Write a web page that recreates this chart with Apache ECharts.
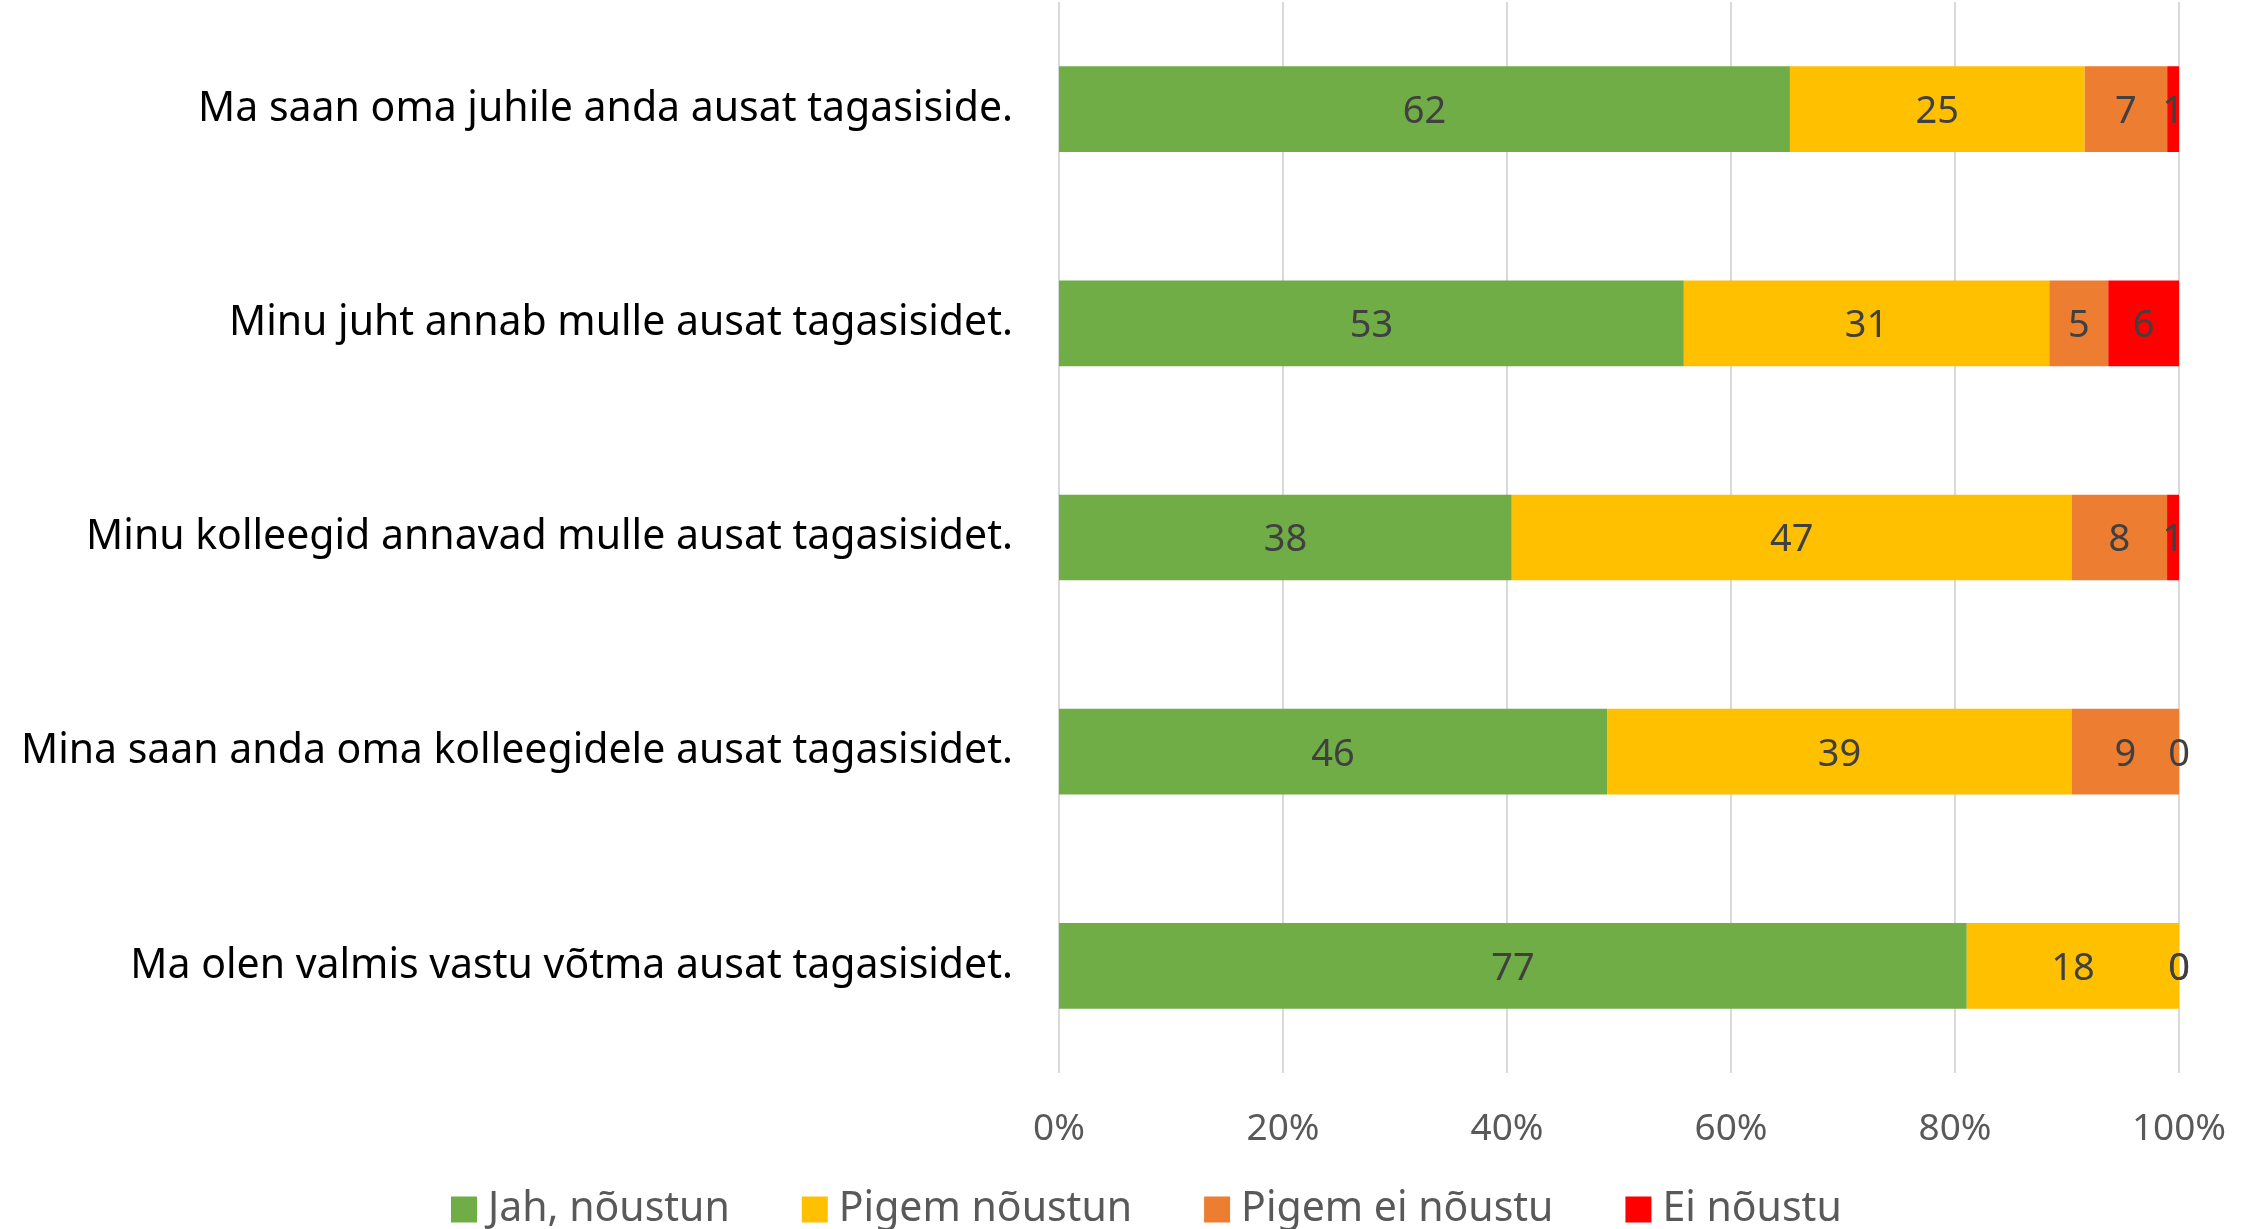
<!DOCTYPE html>
<html>
<head>
<meta charset="utf-8">
<script src="https://cdn.jsdelivr.net/npm/echarts@6/dist/echarts.min.js"></script>
<style>
  html, body { margin: 0; padding: 0; background: #fff; }
  #chart { width: 2254px; height: 1229px; }
</style>
</head>
<body>
<div id="chart"></div>
<script>
// kategooriad (ülevalt alla)
const categories = [
  'Ma saan oma juhile anda ausat tagasiside.',
  'Minu juht annab mulle ausat tagasisidet.',
  'Minu kolleegid annavad mulle ausat tagasisidet.',
  'Mina saan anda oma kolleegidele ausat tagasisidet.',
  'Ma olen valmis vastu võtma ausat tagasisidet.'
]
const seriesNames = ['Jah, nõustun', 'Pigem nõustun', 'Pigem ei nõustu', 'Ei nõustu']
const jah = [62, 53, 38, 46, 77]
const pigemJah = [25, 31, 47, 39, 18]
const pigemEi = [7, 5, 8, 9, 0]
const ei = [1, 6, 1, 0, 0]
const colors = ['#70AD47', '#FFC000', '#ED7D31', '#FF0000']

const raw = [jah, pigemJah, pigemEi, ei]
const totals = categories.map((c, i) => raw.reduce((s, arr) => s + arr[i], 0))

const chart = echarts.init(document.getElementById('chart'))
const font = 'Noto Sans'

chart.setOption({
  animation: false,
  textStyle: { fontFamily: font },
  grid: { left: 1059, right: 75, top: 2, bottom: 156 },
  legend: {
    left: 446,
    top: 1184,
    itemWidth: 26,
    itemHeight: 26,
    itemGap: 72,
    icon: 'rect',
    textStyle: { fontSize: 41, color: '#595959', fontFamily: font, padding: [0, 0, 0, 6] },
    data: seriesNames
  },
  xAxis: {
    type: 'value',
    min: 0,
    max: 100,
    interval: 20,
    axisLine: { show: false },
    axisTick: { show: false },
    splitLine: { lineStyle: { color: '#D9D9D9', width: 2 } },
    axisLabel: {
      formatter: '{value}%',
      fontSize: 37,
      color: '#595959',
      margin: 38
    }
  },
  yAxis: {
    type: 'category',
    inverse: true,
    data: categories,
    axisLine: { show: false },
    axisTick: { show: false },
    axisLabel: { fontSize: 41, color: '#000', margin: 46 }
  },
  series: raw.map((arr, k) => ({
    name: seriesNames[k],
    type: 'bar',
    stack: 'kokku',
    barCategoryGap: '60%',
    itemStyle: { color: colors[k] },
    label: {
      show: true,
      position: 'inside',
      fontSize: 38,
      color: '#404040',
      offset: [0, 3],
      formatter: p => p.data.raw
    },
    data: arr.map((v, i) => ({ value: v / totals[i] * 100, raw: v }))
  }))
})
</script>
</body>
</html>
